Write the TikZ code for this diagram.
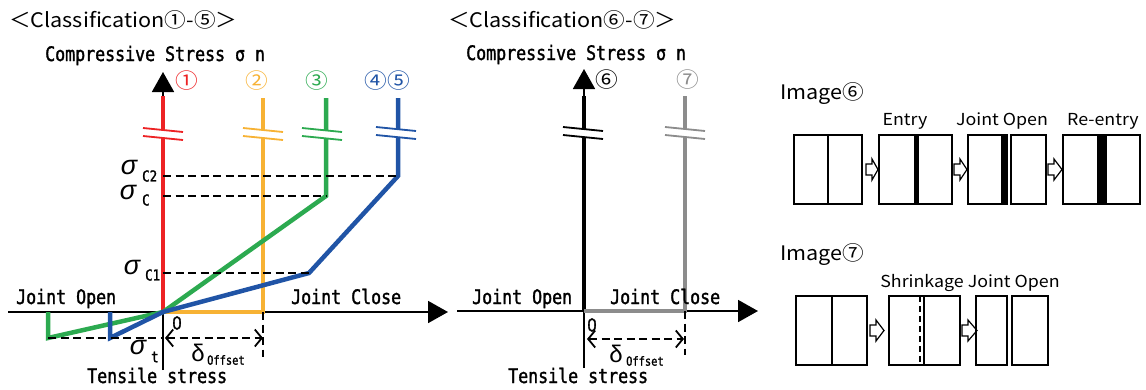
\documentclass[tikz,border=0pt]{standalone}
\usepackage{fontspec}
\usetikzlibrary{arrows.meta}
\newfontfamily\jpfont[FakeStretch=1.08]{Noto Sans CJK JP}
\newfontfamily\monofont[FakeStretch=0.83,FakeBold=1.5]{DejaVu Sans Mono}
\newfontfamily\grkfont{Liberation Sans}
\newfontfamily\zerofont[FakeStretch=0.85,FakeBold=1.5]{Liberation Sans}
\definecolor{cred}{RGB}{237,34,36}
\definecolor{corange}{RGB}{247,178,52}
\definecolor{cgreen}{RGB}{44,170,80}
\definecolor{cblue}{RGB}{32,84,166}
\definecolor{cgray}{RGB}{140,140,140}
% broken-scale mark on a vertical curve: x, y of upper stroke, colour
\newcommand\gapmark[3]{%
  \fill[white] (#1-7,#2-0.7) -- (#1+7,#2+0.7) -- (#1+7,#2+8.7) -- (#1-7,#2+7.3) -- cycle;
  \draw[#3,line width=1.8pt] (#1-20,#2-2) -- (#1+20,#2+2);
  \draw[#3,line width=1.8pt] (#1-20,#2+6) -- (#1+20,#2+10);
}
% open block arrow between two stages: x start, x end, centre y
\newcommand\stagearrow[3]{%
  \draw[line width=1.2pt,fill=white,line join=miter]
    (#1,#3-5.5) -- (#1+6,#3-5.5) -- (#1+6,#3-10.5) -- (#2,#3) -- (#1+6,#3+10.5)
    -- (#1+6,#3+5.5) -- (#1,#3+5.5) -- cycle;
}
\begin{document}
\begin{tikzpicture}[x=1pt,y=-1pt,
  axisline/.style={line width=1.8pt,-{Triangle[length=20pt,width=22pt]}},
  curve/.style={line width=4.5pt,line join=miter},
  guide/.style={line width=1.8pt,dash pattern=on 8pt off 4.5pt},
  offsetarrow/.style={guide,{Straight Barb[length=7pt,width=17pt,line width=1.8pt]}-{Straight Barb[length=7pt,width=17pt,line width=1.8pt]}},
  mono/.style={font=\monofont\fontsize{20}{20}\selectfont,inner sep=0pt},
  zero/.style={font=\zerofont\fontsize{19}{19}\selectfont,inner sep=0pt},
  sub/.style={font=\monofont\fontsize{15}{15}\selectfont,inner sep=0pt},
  subsmall/.style={font=\monofont\fontsize{12.5}{12.5}\selectfont,inner sep=0pt},
  grk/.style={font=\grkfont\itshape\fontsize{27}{27}\selectfont,inner sep=0pt},
  dlt/.style={font=\grkfont\fontsize{24}{24}\selectfont,inner sep=0pt},
  jp/.style={font=\jpfont\fontsize{20}{20}\selectfont,inner sep=0pt},
  small/.style={font=\jpfont\fontsize{16.5}{16.5}\selectfont,inner sep=0pt},
  circ/.style={font=\jpfont\fontsize{21}{21}\selectfont,inner sep=0pt},
  block/.style={line width=1.5pt},
]
\useasboundingbox (0,0) rectangle (1146,389);

% ---------- Classification 1-5 ----------
\node[jp,anchor=base west] (title1) at (9,27) {＜Classification①-⑤＞};
\node[mono,anchor=base west] (ylab1) at (45,61) {Compressive Stress σ n};

\coordinate (O1) at (163,312);
\coordinate (yb1) at (163,370);
\coordinate (yt1) at (163,72);
\coordinate (xl1) at (8,312);
\coordinate (xr1) at (448,312);
\draw[axisline] (yb1) -- (yt1);
\draw[axisline] (xl1) -- (xr1);

% characteristic points
\coordinate (r1) at (163,96);
\coordinate (o1) at (263,98);
\coordinate (o2) at (263,312);
\coordinate (g1) at (326,98);
\coordinate (g2) at (326,196);
\coordinate (g3) at (48,338);
\coordinate (g4) at (48,312);
\coordinate (b1) at (398,98);
\coordinate (b2) at (398,176);
\coordinate (b3) at (309,273);
\coordinate (b4) at (110,338);
\coordinate (b5) at (110,312);

\draw[curve,cred] (r1) -- (O1);
\draw[curve,corange] (o1) -- (o2) -- (O1);
\draw[curve,cgreen] (g1) -- (g2) -- (O1) -- (g3) -- (g4);
\draw[curve,cblue] (b1) -- (b2) -- (b3) -- (O1) -- (b4) -- (b5);

\gapmark{163}{130}{cred}
\gapmark{263}{130}{corange}
\gapmark{322}{130}{cgreen}
\gapmark{396}{129}{cblue}

\node[circ,text=cred] (n1) at (187,81) {①};
\node[circ,text=corange] (n2) at (257,81) {②};
\node[circ,text=cgreen] (n3) at (317,81) {③};
\node[circ,text=cblue] (n45) at (387,81) {④⑤};

% guide lines
\coordinate (c2a) at (163,176);
\coordinate (ca) at (163,196);
\coordinate (c1a) at (163,273);
\coordinate (ta) at (163,338);
\coordinate (da) at (165,338);
\coordinate (db) at (263,338);
\coordinate (dv) at (263,357);
\draw[guide] (c2a) -- (b2);
\draw[guide] (ca) -- (g2);
\draw[guide] (c1a) -- (b3);
\draw[guide] (g3) -- (ta);
\draw[offsetarrow] (da) -- (db);
\draw[guide] (o2) -- (dv);

\node[grk] (sc2) at (129,167) {σ};
\node[sub,anchor=west] (sc2s) at (142,176) {C2};
\node[grk] (sc) at (128,192) {σ};
\node[sub,anchor=west] (scs) at (142,200) {C};
\node[grk] (sc1) at (132,267) {σ};
\node[sub,anchor=west] (sc1s) at (145,275) {C1};
\node[grk] (st) at (138,347) {σ};
\node[sub,anchor=west] (sts) at (151,357) {t};
\node[dlt] (d1) at (198,353) {δ};
\node[subsmall,anchor=west] (d1s) at (207,360) {Offset};

\node[zero] (zero1) at (177,323) {0};
\node[mono,anchor=base west] (jo1) at (16,304) {Joint Open};
\node[mono,anchor=base west] (jc1) at (291,304) {Joint Close};
\node[mono,anchor=base west] (ts1) at (87,383) {Tensile stress};

% ---------- Classification 6-7 ----------
\node[jp,anchor=base west] (title2) at (448,27) {＜Classification⑥-⑦＞};
\node[mono,anchor=base west] (ylab2) at (466,60) {Compressive Stress σ n};

\coordinate (O2) at (584,311);
\coordinate (yb2) at (584,368);
\coordinate (yt2) at (584,69);
\coordinate (xl2) at (457,311);
\coordinate (xr2) at (758,311);
\draw[axisline] (yb2) -- (yt2);
\draw[axisline] (xl2) -- (xr2);

\coordinate (k1) at (584,96);
\coordinate (h1) at (685,96);
\coordinate (h2) at (685,311);
\draw[curve,black] (k1) -- (O2);
\draw[curve,cgray] (h1) -- (h2) -- (O2);
\gapmark{583}{129}{black}
\gapmark{685}{129}{cgray}

\node[circ,text=black] (n6) at (607,80) {⑥};
\node[circ,text=cgray] (n7) at (688,80) {⑦};

\coordinate (ea) at (587,339);
\coordinate (eb) at (684,339);
\coordinate (ev) at (685,355);
\draw[offsetarrow] (ea) -- (eb);
\draw[guide] (h2) -- (ev);

\node[dlt] (d2) at (616,354) {δ};
\node[subsmall,anchor=west] (d2s) at (626,361) {Offset};

\node[zero] (zero2) at (592,325) {0};
\node[mono,anchor=base west] (jo2) at (472,304) {Joint Open};
\node[mono,anchor=base west] (jc2) at (610,304) {Joint Close};
\node[mono,anchor=base west] (ts2) at (508,383) {Tensile stress};

% ---------- Image 6 ----------
\node[jp,anchor=base west] (im6) at (780,99) {Image⑥};
\draw[block] (794,135) rectangle (862,204);
\draw[block] (828,135) -- (828,204);
\stagearrow{866}{878}{169.5}
\draw[block] (879,135) rectangle (952,204);
\fill (914,135) rectangle (919,204);
\node[small,anchor=base] (en) at (905,125) {Entry};
\stagearrow{954}{967}{169.5}
\draw[block] (968,135) rectangle (1007,204);
\fill (1001,135) rectangle (1007,204);
\draw[block] (1011,135) rectangle (1046,204);
\node[small,anchor=base] (jo3) at (1002,125) {Joint Open};
\stagearrow{1048}{1062}{169.5}
\draw[block] (1063,135) rectangle (1140,204);
\fill (1097,135) rectangle (1107,204);
\node[small,anchor=base] (re) at (1103,125) {Re-entry};

% ---------- Image 7 ----------
\node[jp,anchor=base west] (im7) at (780,260) {Image⑦};
\draw[block] (796,296) rectangle (867,365);
\draw[block] (832,296) -- (832,365);
\stagearrow{870}{884}{330.5}
\draw[block] (889,296) rectangle (960,365);
\draw[line width=1.5pt,dash pattern=on 6pt off 4pt] (920,296) -- (920,365);
\draw[block] (924,296) -- (924,365);
\stagearrow{962}{977}{330.5}
\draw[block] (976,296) rectangle (1007,365);
\draw[block] (1012,296) rectangle (1048,365);
\node[small,anchor=base] (sj) at (970,287) {Shrinkage Joint Open};
\end{tikzpicture}
\end{document}
